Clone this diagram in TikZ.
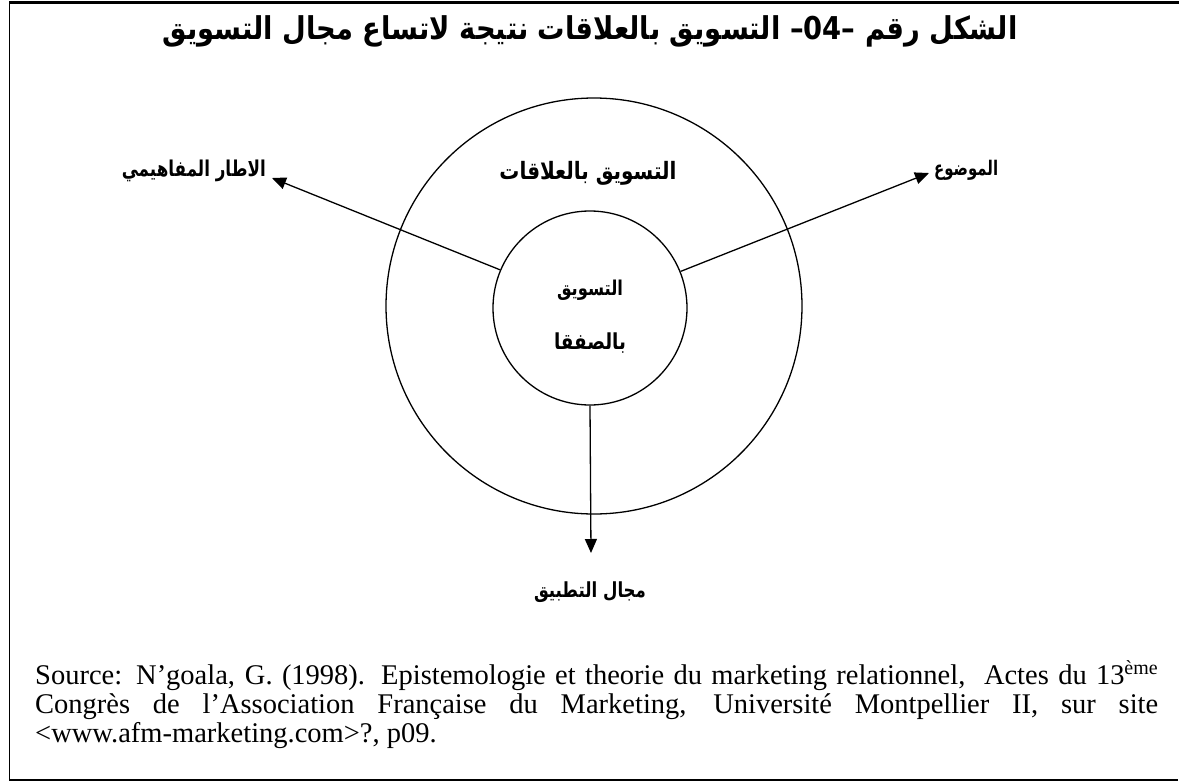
\documentclass[tikz,border=0pt]{standalone}
\usepackage{fontspec}
\usepackage{graphicx}
\setmainfont{Liberation Serif}
\newfontfamily\arabicfont[Script=Arabic]{DejaVu Sans}
\TeXXeTstate=1
\usetikzlibrary{arrows.meta}
\newcommand\arbox[3]{\scalebox{1}[#2]{\resizebox{#1pt}{!}{\arabicfont\bfseries #3}}}
\tikzset{
  ring/.style={circle, draw, line width=1.3pt, inner sep=0pt},
  arr/.style={line width=1.3pt, -{Triangle[length=14pt,width=12pt]}},
  lbl/.style={inner sep=0pt, font=\fontsize{19}{22}\selectfont},
  src/.style={inner sep=0pt, anchor=base west, font=\fontsize{28.5}{30}\selectfont}
}
\begin{document}
\begin{tikzpicture}[x=1pt,y=-1pt]
\useasboundingbox (0,0) rectangle (1179,782);
% frame
\draw[line width=1.2pt] (9.5,2.5) -- (9.5,780) -- (1178,780);
\draw[line width=2.6pt] (9,2.5) -- (1179,2.5);
% title
\node[lbl] (title) at (590,31)
  {\arbox{855}{1.15}{\beginR الشكل رقم –\beginL04\endL– التسويق بالعلاقات نتيجة لاتساع مجال التسويق\endR}};
% circles
\node[ring, minimum size=416pt] (outer) at (594,306) {};
\node[ring, minimum size=194pt] (inner) at (590,308) {};
% circle texts
\node[lbl] (rel) at (588,173) {\arbox{177}{1.2}{\beginR التسويق بالعلاقات\endR}};
\node[lbl] (tr1) at (590,290) {\arbox{66}{1.25}{\beginR التسويق\endR}};
\node[lbl] (tr2) at (590,343) {\arbox{72}{1.2}{\beginR بالصفقا\endR}};
% arrow ends
\coordinate (tipL) at (272,178);
\coordinate (tipR) at (929,173);
\coordinate (tipD) at (591,553);
\draw[arr] (inner.157) -- (tipL);
\draw[arr] (inner.22) -- (tipR);
\draw[arr] (inner.south) -- (tipD);
% labels
\node[lbl, anchor=east] (lblL) at (266,171) {\arbox{144}{1.3}{\beginR الاطار المفاهيمي\endR}};
\node[lbl, anchor=west] (lblR) at (934,170) {\arbox{64}{1.35}{\beginR الموضوع\endR}};
\node[lbl] (lblD) at (590,592) {\arbox{112}{1.25}{\beginR مجال التطبيق\endR}};
% source
\node[src] (s1) at (35,684) {\makebox[1123pt][s]{Source: N’goala, G. (1998). Epistemologie et theorie du marketing relationnel,\ \ Actes du 13\textsuperscript{ème}}};
\node[src] (s2) at (35,713) {\makebox[1123pt][s]{Congrès de l’Association Française du Marketing, Université Montpellier II, sur site}};
\node[src] (s3) at (35,742) {<www.afm-marketing.com>?, p09.};
\end{tikzpicture}
\end{document}
